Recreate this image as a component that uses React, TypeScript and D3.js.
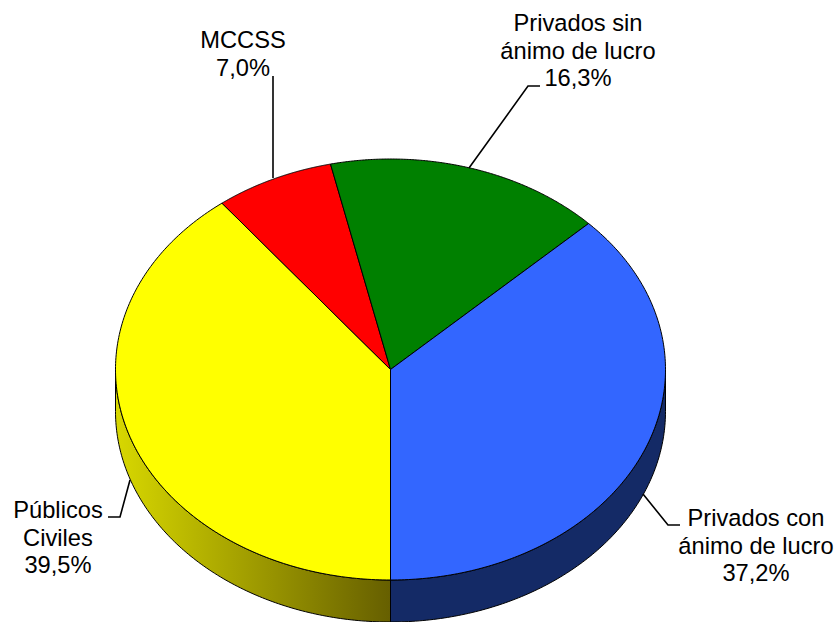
import React from "react";
import * as d3 from "d3";

const categories = ["Públicos Civiles", "MCCSS", "Privados sin ánimo de lucro", "Privados con ánimo de lucro"];
const values = [39.5, 7.0, 16.3, 37.2];
const topColors = ["#ffff00", "#ff0000", "#008000", "#3366ff"];
const labelLines = [
  ["Públicos", "Civiles", "39,5%"],
  ["MCCSS", "7,0%"],
  ["Privados sin", "ánimo de lucro", "16,3%"],
  ["Privados con", "ánimo de lucro", "37,2%"],
];
const labelAnchors = [
  [58, 518],
  [243, 48],
  [578, 31],
  [756, 526],
];
const leaders = [
  [[108, 517], [120, 517], [130, 480]],
  [[273, 76], [273, 178]],
  [[540, 86], [528, 86], [469, 168]],
  [[643, 494], [668, 525], [680, 525]],
];

const W = 838, H = 622;
const cx = 390.5, cy = 369.5, rx = 275, ry = 210.5, depth = 42;
const FONT = "'Liberation Sans', Arial, sans-serif";
const FS = 23.7, LH = 27.7;

const pie = d3.pie<number>().sort(null).startAngle(Math.PI).endAngle(3 * Math.PI);
const arcs = pie(values);
const px = (t: number) => cx + rx * Math.sin(t);
const py = (t: number) => cy - ry * Math.cos(t);

function sidePath(a0: number, a1: number) {
  const s = Math.max(a0, Math.PI / 2);
  const e = Math.min(a1, 1.5 * Math.PI);
  const ts = d3.range(0, 121).map((i) => s + ((e - s) * i) / 120);
  const pts: [number, number][] = [
    ...ts.map((t) => [px(t), py(t)] as [number, number]),
    ...ts.slice().reverse().map((t) => [px(t), py(t) + depth] as [number, number]),
  ];
  return d3.line()(pts) + "Z";
}

function topPath(a0: number, a1: number) {
  const ts = d3.range(0, 181).map((i) => a0 + ((a1 - a0) * i) / 180);
  const pts: [number, number][] = [[cx, cy], ...ts.map((t) => [px(t), py(t)] as [number, number])];
  return d3.line()(pts) + "Z";
}

export default function App() {
  const leaderLine = d3.line();
  return (
    <svg width={W} height={H} viewBox={`0 0 ${W} ${H}`} style={{ position: "absolute", left: 0, top: 0, background: "#fff" }}>
      <defs>
        <linearGradient id="ySide" gradientUnits="userSpaceOnUse" x1={cx - rx} y1={0} x2={cx} y2={0}>
          <stop offset="0" stopColor="#d8d800" />
          <stop offset="1" stopColor="#665f00" />
        </linearGradient>
      </defs>
      <path d={sidePath(Math.PI / 2, Math.PI)} fill="#142a66" stroke="#000" strokeWidth={1} />
      <path d={sidePath(Math.PI, 1.5 * Math.PI)} fill="url(#ySide)" stroke="#000" strokeWidth={1} />
      {arcs.map((a, i) => (
        <path key={categories[i]} d={topPath(a.startAngle, a.endAngle)} fill={topColors[i]} stroke="#000" strokeWidth={1} strokeLinejoin="round" />
      ))}
      {leaders.map((l, i) => (
        <path key={i} d={leaderLine(l as [number, number][])!} fill="none" stroke="#000" strokeWidth={1.6} />
      ))}
      {labelLines.map((lines, i) => (
        <text key={i} fontFamily={FONT} fontSize={FS} textAnchor="middle" fill="#000">
          {lines.map((t, j) => (
            <tspan key={j} x={labelAnchors[i][0]} y={labelAnchors[i][1] + j * LH}>{t}</tspan>
          ))}
        </text>
      ))}
    </svg>
  );
}
